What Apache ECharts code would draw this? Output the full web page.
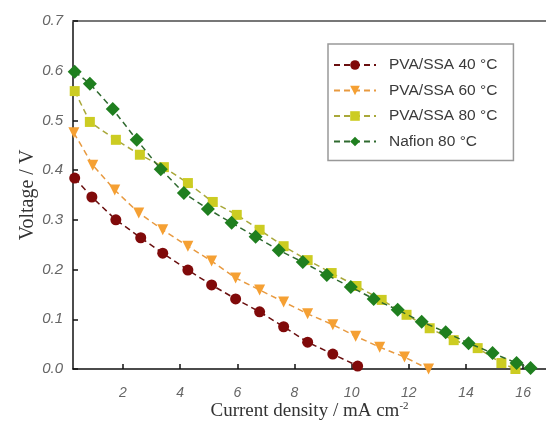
<!DOCTYPE html>
<html>
<head>
<meta charset="utf-8">
<script src="https://cdn.jsdelivr.net/npm/echarts@6/dist/echarts.min.js"></script>
<style>
html,body{margin:0;padding:0;background:#fff;}
#chart{width:546px;height:422px;}
</style>
</head>
<body>
<div id="chart"></div>
<script>
// Data
var seriesNames = ['PVA/SSA 40 °C', 'PVA/SSA 60 °C', 'PVA/SSA 80 °C', 'Nafion 80 °C'];
var xTicks = [2, 4, 6, 8, 10, 12, 14, 16];
var yTicks = [0.0, 0.1, 0.2, 0.3, 0.4, 0.5, 0.6, 0.7];

var pva40X = [0.31, 0.91, 1.75, 2.62, 3.39, 4.27, 5.10, 5.94, 6.78, 7.62, 8.46, 9.34, 10.21];
var pva40Y = [0.384, 0.346, 0.300, 0.264, 0.233, 0.199, 0.169, 0.141, 0.115, 0.085, 0.054, 0.030, 0.006];

var pva60X = [0.28, 0.94, 1.71, 2.55, 3.39, 4.27, 5.10, 5.94, 6.78, 7.62, 8.46, 9.34, 10.14, 10.98, 11.85, 12.69];
var pva60Y = [0.475, 0.410, 0.360, 0.314, 0.280, 0.247, 0.217, 0.183, 0.159, 0.135, 0.111, 0.089, 0.066, 0.044, 0.024, 0.000];

var pva80X = [0.31, 0.84, 1.75, 2.59, 3.43, 4.27, 5.14, 5.98, 6.78, 7.62, 8.46, 9.30, 10.17, 11.05, 11.92, 12.73, 13.57, 14.41, 15.24, 15.73];
var pva80Y = [0.559, 0.497, 0.461, 0.431, 0.406, 0.374, 0.336, 0.310, 0.280, 0.247, 0.219, 0.193, 0.167, 0.139, 0.109, 0.082, 0.058, 0.042, 0.012, 0.000];

var nafionX = [0.31, 0.84, 1.64, 2.48, 3.32, 4.13, 4.97, 5.80, 6.64, 7.45, 8.29, 9.13, 9.97, 10.77, 11.61, 12.45, 13.29, 14.09, 14.93, 15.77, 16.26];
var nafionY = [0.598, 0.574, 0.523, 0.461, 0.402, 0.354, 0.322, 0.294, 0.266, 0.239, 0.215, 0.189, 0.165, 0.141, 0.119, 0.095, 0.074, 0.052, 0.032, 0.012, 0.002];

function pairs(xs, ys) {
  return xs.map(function (x, i) { return [x, ys[i]]; });
}

var colors = ['#800a0a', '#f5a033', '#cccc22', '#1f7f1f'];
var lineColors = ['#6a1010', '#e89a40', '#a9a83a', '#2f6a2f'];
var symbols = ['circle', 'triangle', 'rect', 'diamond'];
var symbolSizes = [11, 11, 10, 14];
var symbolRotates = [0, 180, 0, 0];
var datasets = [pairs(pva40X, pva40Y), pairs(pva60X, pva60Y), pairs(pva80X, pva80Y), pairs(nafionX, nafionY)];

var chart = echarts.init(document.getElementById('chart'), null, {renderer: 'canvas'});

var series = seriesNames.map(function (name, i) {
  return {
    name: name,
    type: 'line',
    data: datasets[i],
    symbol: symbols[i],
    symbolSize: symbolSizes[i],
    symbolRotate: symbolRotates[i],
    showAllSymbol: true,
    clip: false,
    itemStyle: {color: colors[i]},
    lineStyle: {color: lineColors[i], width: 1.5, type: [6, 4]},
    z: 2 + i
  };
});

var option = {
  animation: false,
  backgroundColor: '#fff',
  grid: {left: 73, right: 0, top: 21, bottom: 53, containLabel: false, outerBoundsMode: 'none'},
  legend: {
    orient: 'vertical',
    left: 328,
    top: 44,
    data: seriesNames,
    itemWidth: 42,
    itemHeight: 12,
    itemGap: 9.5,
    padding: [13, 16, 11, 5],
    borderColor: '#999',
    borderWidth: 1.5,
    borderRadius: 0,
    textStyle: {fontFamily: 'Liberation Sans', fontSize: 15.5, color: '#3a3a3a', padding: [0, 0, 0, 8]}
  },
  xAxis: [{
    type: 'value',
    min: 0.25,
    max: 16.8,
    splitLine: {show: false},
    axisLine: {onZero: false, lineStyle: {color: '#111', width: 1.5}},
    axisTick: {inside: true, length: 5, customValues: xTicks, lineStyle: {color: '#111', width: 1.5}},
    axisLabel: {
      customValues: xTicks,
      margin: 17,
      fontFamily: 'Liberation Sans', fontStyle: 'italic', fontSize: 14, color: '#666'
    },
    name: '{a|Current density / mA cm}{s|-2}',
    nameLocation: 'middle',
    nameGap: 32,
    nameMoveOverlap: false,
    nameTextStyle: {
      rich: {
        a: {fontFamily: 'Liberation Serif', fontSize: 19, color: '#333'},
        s: {fontFamily: 'Liberation Serif', fontSize: 11, color: '#333', verticalAlign: 'top', padding: [0, 0, 9, 0]}
      }
    }
  }, {
    type: 'value',
    position: 'top',
    min: 0.25,
    max: 16.8,
    splitLine: {show: false},
    axisLine: {show: true, onZero: false, lineStyle: {color: '#777', width: 2}},
    axisTick: {show: false},
    axisLabel: {show: false}
  }],
  yAxis: {
    type: 'value',
    min: 0,
    max: 0.7,
    interval: 0.1,
    splitLine: {show: false},
    axisLine: {show: true, lineStyle: {color: '#111', width: 1.5}},
    axisTick: {show: true, inside: true, length: 5, lineStyle: {color: '#111', width: 1.5}},
    axisLabel: {
      margin: 10,
      formatter: function (v) { return v.toFixed(1); },
      fontFamily: 'Liberation Sans', fontStyle: 'italic', fontSize: 15, color: '#666'
    },
    name: 'Voltage / V',
    nameLocation: 'middle',
    nameGap: 35,
    nameMoveOverlap: false,
    nameTextStyle: {fontFamily: 'Liberation Serif', fontSize: 20, color: '#333'}
  },
  series: series
};

chart.setOption(option);
</script>
</body>
</html>
